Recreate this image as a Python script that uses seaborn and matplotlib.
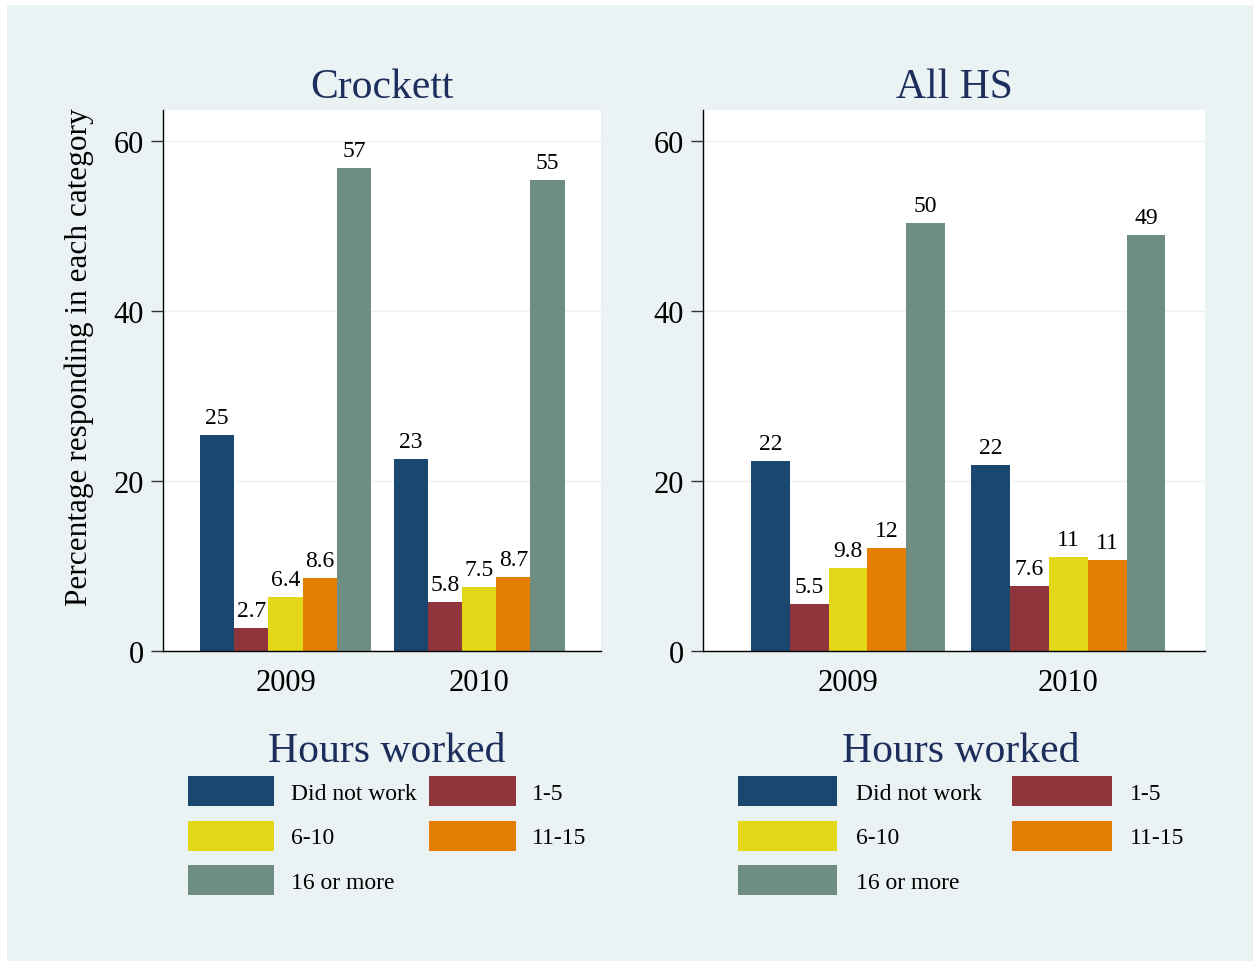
import matplotlib
matplotlib.use("Agg")
import matplotlib.pyplot as plt
from matplotlib.patches import Rectangle
import seaborn as sns
import pandas as pd

# data
years = ["2009", "2010"]
hours = ["Did not work", "1-5", "6-10", "11-15", "16 or more"]
crockett_2009 = [25.4, 2.7, 6.4, 8.6, 56.8]
crockett_2010 = [22.6, 5.8, 7.5, 8.7, 55.4]
allhs_2009 = [22.3, 5.5, 9.8, 12.1, 50.3]
allhs_2010 = [21.9, 7.6, 11.1, 10.7, 48.9]
colors = ["#1A476F", "#90353B", "#E2D818", "#E37E00", "#6E8E84"]

BG = "#EAF2F3"
NAVY = "#1E2E5C"

sns.set_style("white")
plt.rcParams["font.family"] = ["Liberation Serif", "DejaVu Serif"]
plt.rcParams.update({"text.color": "black", "axes.labelcolor": "black",
                     "xtick.color": "black", "ytick.color": "black"})


def make_frame(v2009, v2010):
    rows = []
    for yr, vals in zip(years, [v2009, v2010]):
        for h, v in zip(hours, vals):
            rows.append({"year": yr, "hours": h, "pct": v})
    return pd.DataFrame(rows)


fig = plt.figure(figsize=(12.53, 9.62), dpi=100, facecolor="white")
fig.add_artist(Rectangle((7 / 1253, 0), 1, 1 - 6 / 962, transform=fig.transFigure,
                         facecolor=BG, edgecolor="none", zorder=-10))

W, H = 1253, 962
panels = [
    dict(title="Crockett", data=make_frame(crockett_2009, crockett_2010),
         left=163, right=601, xlim=(-0.633, 1.630), width=0.884,
         hlen=3.68, tpad=0.68, cspace=0.55, lx=387),
    dict(title="All HS", data=make_frame(allhs_2009, allhs_2010),
         left=703, right=1205, xlim=(-0.658, 1.62), width=0.88,
         hlen=4.22, tpad=0.78, cspace=1.3, lx=961),
]

top, bottom = 111, 652
for i, p in enumerate(panels):
    ax = fig.add_axes([p["left"] / W, 1 - bottom / H,
                       (p["right"] - p["left"]) / W, (bottom - top) / H])
    ax.set_facecolor("white")
    sns.barplot(data=p["data"], x="year", y="pct", hue="hours", order=years,
                hue_order=hours, palette=colors, width=p["width"], gap=0,
                saturation=1, errorbar=None, linewidth=0, ax=ax)
    for c in ax.containers:
        ax.bar_label(c, fmt="%.2g", padding=5, fontsize=17, color="black")

    ax.set_ylim(0, 63.6)
    ax.set_xlim(*p["xlim"])
    ax.set_yticks([0, 20, 40, 60])
    ax.yaxis.grid(True, color=BG, linewidth=1)
    ax.set_axisbelow(True)
    for s in ["top", "right"]:
        ax.spines[s].set_visible(False)
    for s in ["left", "bottom"]:
        ax.spines[s].set_color("black")
        ax.spines[s].set_linewidth(1)
    ax.tick_params(axis="y", direction="out", length=8.5, width=1, color="#333333",
                   labelsize=22, pad=5, left=True, labelcolor="black")
    ax.tick_params(axis="x", length=0, labelsize=22, pad=12, labelcolor="black")
    ax.set_xlabel("")
    ax.set_title(p["title"], fontsize=30, color=NAVY, pad=9)
    if i == 0:
        ax.set_ylabel("Percentage responding in each category", fontsize=22.5,
                      color="black")
        ax.yaxis.set_label_coords(-0.158, 0.545)
    else:
        ax.set_ylabel("")

    handles, labels = ax.get_legend_handles_labels()
    ax.get_legend().remove()
    order = [0, 2, 4, 1, 3]
    leg = ax.legend([handles[k] for k in order], [labels[k] for k in order],
                    ncol=2, loc="upper center",
                    bbox_to_anchor=(p["lx"] / W, 1 - 732 / H),
                    bbox_transform=fig.transFigure, frameon=False,
                    fontsize=17, title="Hours worked", title_fontsize=30,
                    handlelength=p["hlen"], handleheight=1.58,
                    handletextpad=p["tpad"], columnspacing=p["cspace"],
                    labelspacing=0.6, borderpad=0, borderaxespad=0)
    leg.get_title().set_color(NAVY)
    leg._legend_box.sep = 5

fig.savefig("out.png", dpi=100, facecolor=fig.get_facecolor())
